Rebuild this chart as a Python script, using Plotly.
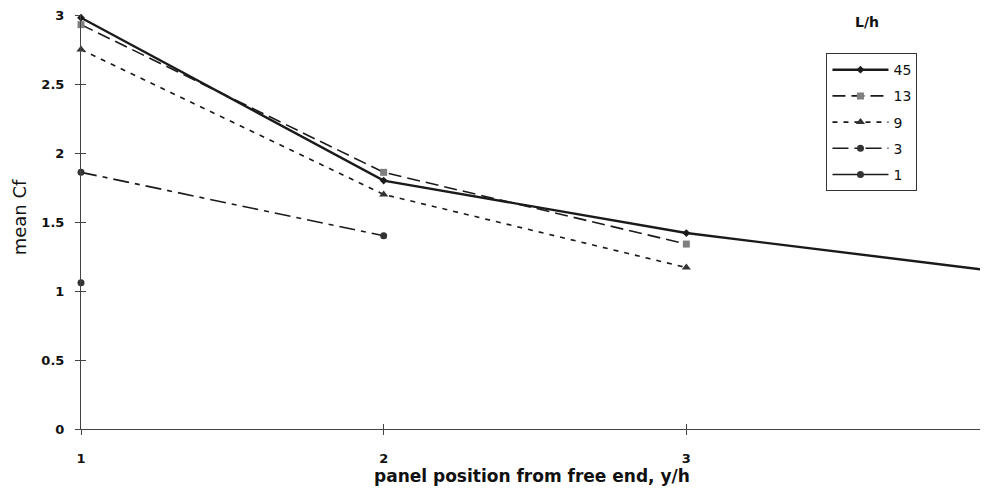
import plotly.graph_objects as go

positions = [1, 2, 3, 4]
series_names = ["45", "13", "9", "3", "1"]
cf_45 = [2.98, 1.80, 1.42, 1.15]
cf_13 = [2.93, 1.86, 1.34]
cf_9 = [2.75, 1.70, 1.17]
cf_3 = [1.86, 1.40]
cf_1 = [1.06]

x_ticks = [1, 2, 3, 4]
y_ticks = [0, 0.5, 1, 1.5, 2, 2.5, 3]
y_tick_labels = ["0", "0.5", "1", "1.5", "2", "2.5", "3"]

styles = [
    dict(data=cf_45, dash="solid", width=2.4, symbol="diamond", msize=6, mcolor="#1a1a1a"),
    dict(data=cf_13, dash="13px,6px", width=1.6, symbol="square", msize=7, mcolor="#808080"),
    dict(data=cf_9, dash="5px,6px", width=1.6, symbol="triangle-up", msize=8, mcolor="#333333"),
    dict(data=cf_3, dash="16px,6px,5px,6px", width=1.6, symbol="circle", msize=7, mcolor="#333333"),
    dict(data=cf_1, dash="solid", width=1.6, symbol="circle", msize=7, mcolor="#333333"),
]

FAM = "DejaVu Sans, Liberation Sans, Arial, sans-serif"

fig = go.Figure()
for name, st in zip(series_names, styles):
    fig.add_trace(go.Scatter(
        x=positions[:len(st["data"])], y=st["data"], name=name,
        mode="lines+markers", legendgroup=name,
        line=dict(color="#1a1a1a", width=st["width"], dash=st["dash"]),
        marker=dict(symbol=st["symbol"], size=st["msize"], color=st["mcolor"]),
        cliponaxis=False,
    ))

# invisible trace on overlay axes to get ticks crossing the axis lines
fig.add_trace(go.Scatter(x=[1, 4], y=[0, 3], xaxis="x2", yaxis="y2",
                         mode="markers", marker=dict(opacity=0), showlegend=False,
                         hoverinfo="skip"))

bold13 = dict(family=FAM, size=13, color="#111111", weight="bold")

PW = 913  # plot-area width

fig.update_layout(
    width=73 + PW, height=478,
    margin=dict(l=73, r=0, t=7, b=57),
    paper_bgcolor="white", plot_bgcolor="white",
    font=dict(family=FAM, size=12, color="#111111"),
    showlegend=True,
    legend=dict(x=0.821, y=0.908, xanchor="left", yanchor="top",
                bordercolor="#333333", borderwidth=1, bgcolor="white",
                font=dict(family=FAM, size=14, color="#111111"),
                tracegroupgap=5, traceorder="grouped", itemwidth=56),
    xaxis=dict(range=[1, 4], tickvals=x_ticks, ticktext=[str(v) for v in x_ticks],
               showgrid=False, zeroline=False, showline=True, linecolor="#444444", linewidth=1,
               ticks="outside", ticklen=5, tickcolor="#444444", tickfont=bold13,
               ticklabelstandoff=12, ticklabeloverflow="allow"),
    yaxis=dict(range=[0, 3], tickvals=y_ticks, ticktext=y_tick_labels,
               showgrid=False, zeroline=False, showline=True, linecolor="#444444", linewidth=1,
               ticks="outside", ticklen=5, tickcolor="#444444", tickfont=bold13,
               ticklabelstandoff=8, ticklabeloverflow="allow"),
    xaxis2=dict(range=[1, 4], tickvals=x_ticks, overlaying="x", showticklabels=False,
                showgrid=False, zeroline=False, showline=False, ticks="inside", ticklen=5,
                tickcolor="#444444"),
    yaxis2=dict(range=[0, 3], tickvals=y_ticks, overlaying="y", showticklabels=False,
                showgrid=False, zeroline=False, showline=False, ticks="inside", ticklen=5,
                tickcolor="#444444"),
    annotations=[
        dict(text="L/h", x=0.866, y=0.983, xref="paper", yref="paper",
             showarrow=False, xanchor="center", yanchor="middle",
             font=dict(family=FAM, size=14, color="#111111", weight="bold")),
        dict(text="panel position from free end, y/h", x=0.4966, y=-0.1135,
             xref="paper", yref="paper", showarrow=False, xanchor="center", yanchor="middle",
             font=dict(family=FAM, size=17, color="#111111", weight="bold")),
        dict(text="mean Cf", x=-0.068, y=0.512, xref="paper", yref="paper", textangle=-90,
             showarrow=False, xanchor="center", yanchor="middle",
             font=dict(family=FAM, size=18, color="#111111")),
    ],
)

fig.write_html("out.html")
